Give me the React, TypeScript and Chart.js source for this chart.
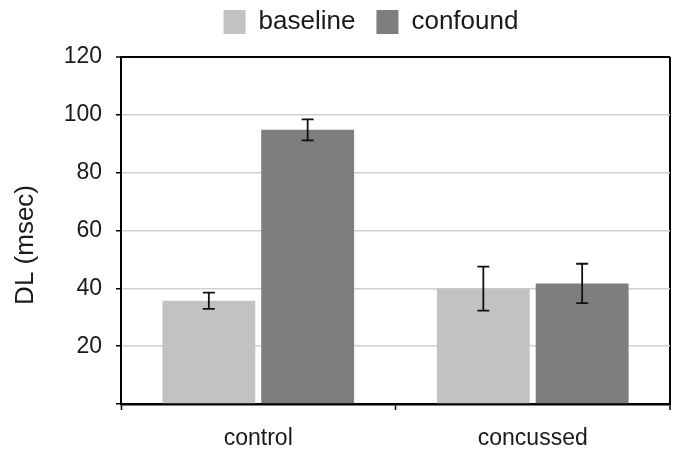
import React, { useEffect, useRef } from "react";
import { Chart, registerables } from "chart.js";

Chart.register(...registerables);

const categories = ["control", "concussed"];
const seriesNames = ["baseline", "confound"];
const baselineMeans = [35.7, 39.9];
const baselineErrors = [2.8, 7.6];
const confoundMeans = [94.8, 41.7];
const confoundErrors = [3.6, 6.8];
const seriesColors = ["#c2c2c2", "#7e7e7e"];
const yMin = 0;
const yMax = 120;
const yStep = 20;
const yTitle = "DL (msec)";

const errorsBySeries = [baselineErrors, confoundErrors];

const errorBarPlugin = {
  id: "errorBars",
  afterDatasetsDraw(chart: any) {
    const ctx = chart.ctx;
    const yScale = chart.scales.y;
    ctx.save();
    ctx.strokeStyle = "#111";
    ctx.lineWidth = 1.8;
    chart.data.datasets.forEach((ds: any, di: number) => {
      const meta = chart.getDatasetMeta(di);
      meta.data.forEach((bar: any, i: number) => {
        const v = ds.data[i];
        const e = errorsBySeries[di][i];
        const top = yScale.getPixelForValue(v + e);
        const bot = yScale.getPixelForValue(v - e);
        const x = bar.x;
        const cap = 6;
        ctx.beginPath();
        ctx.moveTo(x, top);
        ctx.lineTo(x, bot);
        ctx.moveTo(x - cap, top);
        ctx.lineTo(x + cap, top);
        ctx.moveTo(x - cap, bot);
        ctx.lineTo(x + cap, bot);
        ctx.stroke();
      });
    });
    ctx.restore();
  },
};

const legendShiftPlugin = {
  id: "legendShift",
  afterLayout(chart: any) {
    const l = chart.legend;
    if (!l) return;
    const dx = 36;
    const dy = -12;
    l.left += dx;
    l.right += dx;
    l.top += dy;
    l.bottom += dy;
  },
};

export default function App() {
  const ref = useRef<HTMLCanvasElement | null>(null);

  useEffect(() => {
    if (!ref.current) return;
    const font = "'Liberation Sans', Arial, sans-serif";
    const chart = new Chart(ref.current, {
      type: "bar",
      data: {
        labels: categories,
        datasets: [
          {
            label: seriesNames[0],
            data: baselineMeans,
            backgroundColor: seriesColors[0],
            borderWidth: 0,
            categoryPercentage: 0.72,
            barPercentage: 0.94,
          },
          {
            label: seriesNames[1],
            data: confoundMeans,
            backgroundColor: seriesColors[1],
            borderWidth: 0,
            categoryPercentage: 0.72,
            barPercentage: 0.94,
          },
        ],
      },
      options: {
        responsive: false,
        animation: false,
        layout: { padding: { left: 0, right: 9, top: 0, bottom: 0 } },
        plugins: {
          tooltip: { enabled: false },
          legend: {
            display: true,
            position: "top",
            labels: {
              boxWidth: 22,
              boxHeight: 24,
              padding: 21,
              color: "#1a1a1a",
              font: { family: font, size: 26 },
            },
          },
        },
        scales: {
          x: {
            offset: true,
            border: { display: true, color: "#000", width: 2.5 },
            grid: {
              offset: true,
              drawOnChartArea: true,
              drawTicks: true,
              tickLength: 6,
              tickWidth: 1.5,
              tickColor: "#000",
              color: (c: any) => (c.type === "tick" ? "rgba(0,0,0,0)" : "#000"),
              lineWidth: (c: any) => (c.type === "tick" ? 1 : 2),
            },
            ticks: {
              color: "#1a1a1a",
              padding: 15,
              font: { family: font, size: 23 },
            },
            afterFit(scale: any) {
              scale.height = 46;
            },
          },
          y: {
            min: yMin,
            max: yMax,
            border: { display: true, color: "#000", width: 2 },
            grid: {
              drawTicks: true,
              tickLength: 5,
              tickColor: "#000",
              tickWidth: 1.5,
              color: (c: any) =>
                c.tick && c.tick.value === yMax ? "#000" : c.tick && c.tick.value === yMin ? "rgba(0,0,0,0)" : "#d0d0d0",
              lineWidth: (c: any) => (c.tick && c.tick.value === yMax ? 2 : 1.5),
            },
            ticks: {
              stepSize: yStep,
              color: "#1a1a1a",
              padding: 14,
              font: { family: font, size: 23 },
              callback: (v: any) => (v === yMin ? "" : String(v)),
            },
            title: {
              display: true,
              text: yTitle + "    ",
              color: "#1a1a1a",
              font: { family: font, size: 26 },
              padding: { top: 10, bottom: 0 },
            },
            afterFit(scale: any) {
              scale.width = 121;
            },
          },
        },
      },
      plugins: [errorBarPlugin, legendShiftPlugin],
    });
    return () => chart.destroy();
  }, []);

  return (
    <div style={{ position: "fixed", left: 0, top: 0, width: 679, height: 450, background: "#fff" }}>
      <canvas ref={ref} width={679} height={450} />
    </div>
  );
}
